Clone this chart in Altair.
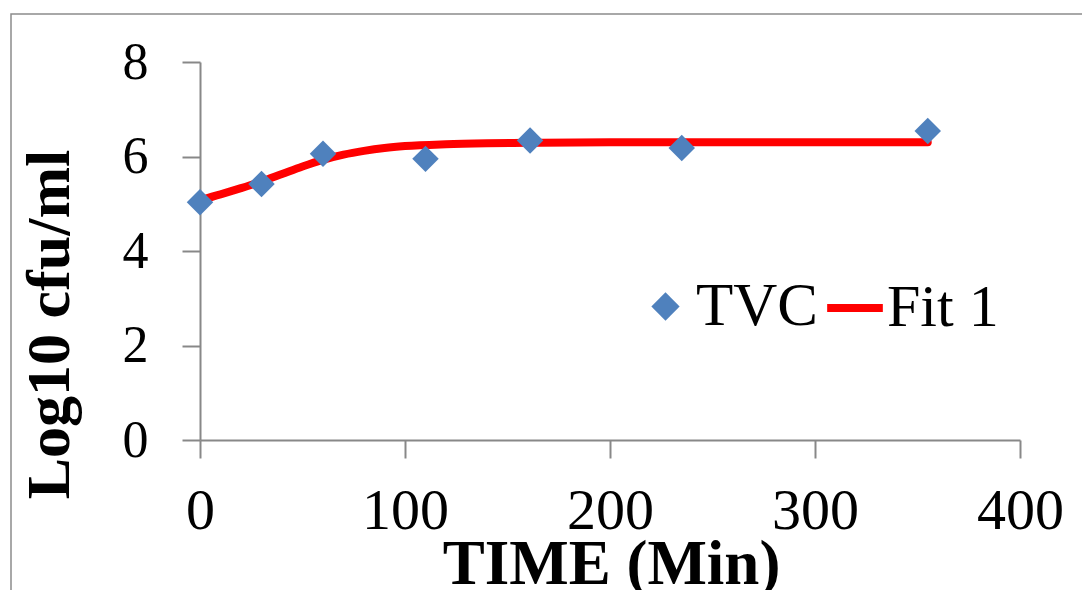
import altair as alt
import pandas as pd

# Observed TVC points
time_pts = [0, 30, 60, 110, 161, 235, 355]
tvc = [5.03, 5.42, 6.06, 5.95, 6.34, 6.18, 6.54]

# Fitted curve
fit_t = [0, 10, 20, 30, 40, 50, 60, 70, 80, 90, 100, 120, 140, 160, 200, 250, 300, 355]
fit_v = [5.08, 5.20, 5.33, 5.47, 5.63, 5.79, 5.93, 6.04, 6.12, 6.18, 6.22, 6.26, 6.28, 6.29, 6.30, 6.30, 6.30, 6.30]

x_ticks = [0, 100, 200, 300, 400]
y_ticks = [0, 2, 4, 6, 8]

pts = pd.DataFrame({"time": time_pts, "value": tvc, "series": ["TVC"] * len(time_pts)})
fit = pd.DataFrame({"time": fit_t, "value": fit_v, "series": ["Fit 1"] * len(fit_t)})

FONT = "Liberation Serif"
AX = "#888888"

x_scale = alt.Scale(domain=[0, 400], nice=False)
y_scale = alt.Scale(domain=[0, 8], nice=False)

x_axis = alt.Axis(
    values=x_ticks, title="TIME (Min)", grid=False,
    domainColor=AX, domainWidth=2, tickColor=AX, tickWidth=2, tickSize=18,
    labelFont=FONT, labelFontSize=58, labelColor="black", labelPadding=24,
    labelFlush=False, labelOverlap=False,
    titleFont=FONT, titleFontSize=63, titleFontWeight="bold", titleColor="black",
    titleX=411, titleY=143, titleBaseline="alphabetic", titleAlign="center",
)
y_axis = alt.Axis(
    values=y_ticks, title="Log10 cfu/ml", grid=False,
    domainColor=AX, domainWidth=2, tickColor=AX, tickWidth=2, tickSize=18,
    labelFont=FONT, labelFontSize=52, labelColor="black", labelPadding=34,
    labelOverlap=False,
    titleFont=FONT, titleFontSize=62, titleFontWeight="bold", titleColor="black",
    titleX=-132, titleY=262, titleAngle=270, titleBaseline="alphabetic", titleAlign="center",
)

line = alt.Chart(fit).mark_line(strokeWidth=8, strokeCap="round", interpolate="monotone").encode(
    x=alt.X("time:Q", scale=x_scale, axis=x_axis),
    y=alt.Y("value:Q", scale=y_scale, axis=y_axis),
    order="time:Q",
    stroke=alt.Stroke(
        "series:N",
        scale=alt.Scale(domain=["Fit 1"], range=["#FF0000"]),
        legend=alt.Legend(
            title=None, orient="none", legendX=623, legendY=214,
            symbolType="stroke", symbolSize=3100, symbolStrokeWidth=8,
            labelFont=FONT, labelFontSize=60, labelColor="black", labelOffset=0,
        ),
    ),
)

points = alt.Chart(pts).mark_point(shape="diamond", filled=True, size=700, opacity=1).encode(
    x=alt.X("time:Q", scale=x_scale),
    y=alt.Y("value:Q", scale=y_scale),
    fill=alt.Fill(
        "series:N",
        scale=alt.Scale(domain=["TVC"], range=["#4F81BD"]),
        legend=alt.Legend(
            title=None, orient="none", legendX=435, legendY=214,
            symbolType="diamond", symbolSize=800, symbolOpacity=1, symbolStrokeWidth=0,
            labelFont=FONT, labelFontSize=61, labelColor="black", labelOffset=0,
        ),
    ),
)

border = alt.Chart(pd.DataFrame({"k": [0]})).mark_rect(
    fillOpacity=0, stroke="#8c8c8c", strokeWidth=1.5
).encode(
    x=alt.value(-189), x2=alt.value(900), y=alt.value(-48), y2=alt.value(600)
)

chart = alt.layer(border, line, points).properties(
    width=820, height=378,
    autosize=alt.AutoSizeParams(type="none"),
    padding={"left": 192, "top": 54, "right": 62, "bottom": 170},
    background="white",
).configure_view(stroke=None)

chart.save("out.html", embed_options={"renderer": "svg", "actions": False})
